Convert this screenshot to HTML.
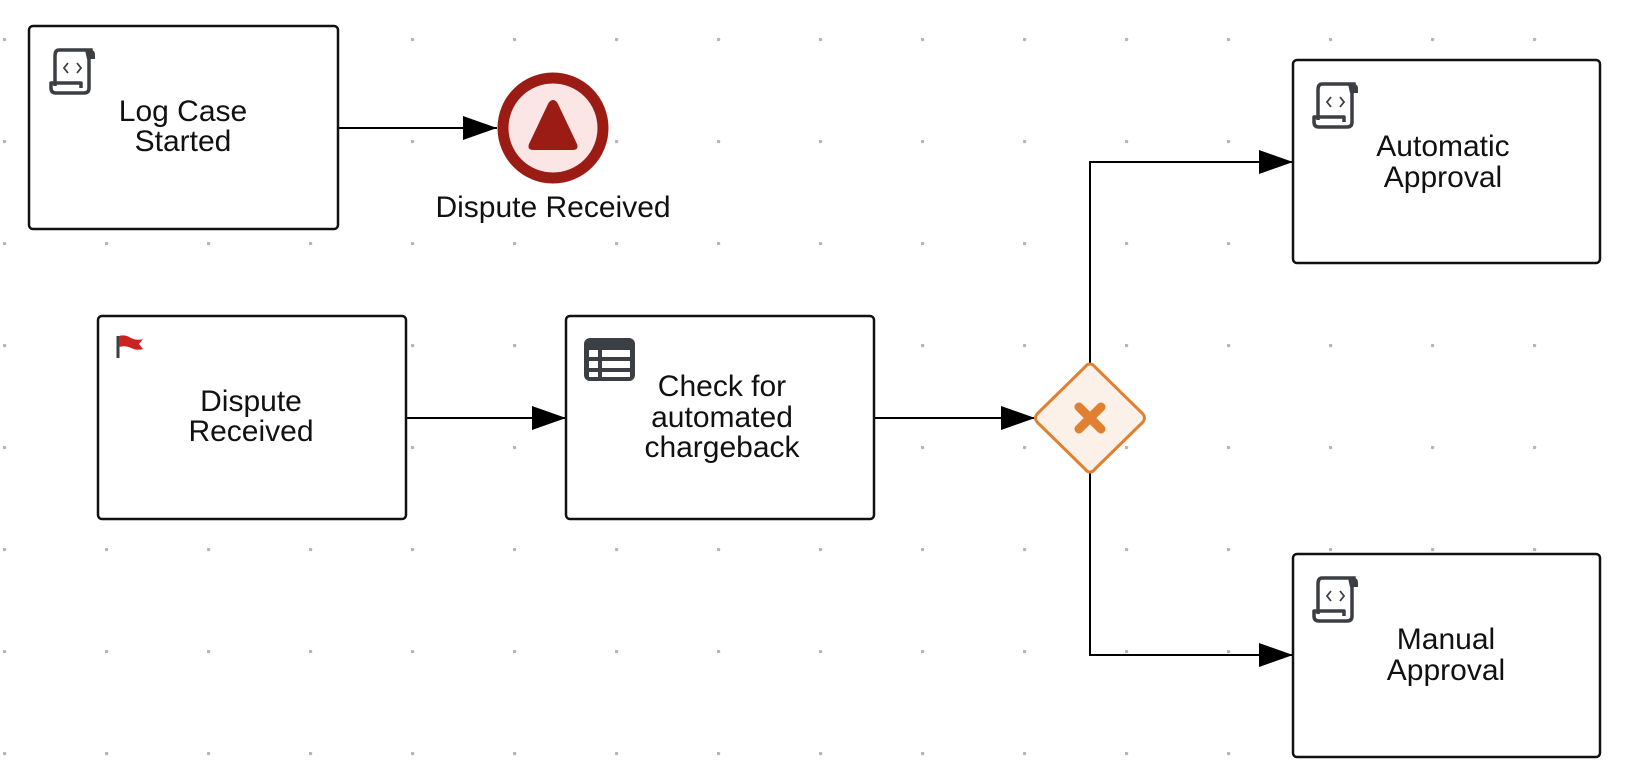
<!DOCTYPE html>
<html><head><meta charset="utf-8"><style>
html,body{margin:0;padding:0;background:#fff;}
svg{display:block;}
text{font-family:"Liberation Sans",sans-serif;font-size:30px;fill:#111;text-anchor:middle;}
</style></head><body>
<svg width="1630" height="778" viewBox="0 0 1630 778" xmlns="http://www.w3.org/2000/svg">
<defs>
<pattern id="dots" x="3" y="38" width="102" height="102" patternUnits="userSpaceOnUse">
<circle cx="1.5" cy="1.5" r="1.8" fill="#b5b5b5"/>
</pattern>
<marker id="a" viewBox="0 0 34 24" refX="34" refY="12" markerWidth="34" markerHeight="24" markerUnits="userSpaceOnUse" orient="auto">
<path d="M0,0 L34,12 L0,24 z" fill="#000"/>
</marker>
<g id="scroll">
<path d="M10,3 h32 v8 M10,3 q-4,0 -4,6 v30" fill="none" stroke="#3b3f44" stroke-width="3.5"/>
<path d="M36,3 h6 q4,0 4,5 v4 h-8 z" fill="#3b3f44"/>
<path d="M40,8 v33 q0,5 -5,5 h-28 q-5,0 -5,-5 v-5 h30 v5" fill="none" stroke="#3b3f44" stroke-width="3.5" stroke-linejoin="round"/>
<path d="M19,16 l-4,5 l4,5 M28,16 l4,5 l-4,5" fill="none" stroke="#3b3f44" stroke-width="1.8"/>
</g>
</defs>
<rect width="1630" height="778" fill="url(#dots)"/>

<g stroke="#000" stroke-width="2" fill="none">
<line x1="338" y1="128" x2="497" y2="128" marker-end="url(#a)"/>
<line x1="406" y1="418" x2="566" y2="418" marker-end="url(#a)"/>
<line x1="874" y1="418" x2="1035" y2="418" marker-end="url(#a)"/>
<polyline points="1090,363 1090,162 1293,162" marker-end="url(#a)"/>
<polyline points="1090,473 1090,655 1293,655" marker-end="url(#a)"/>
</g>

<g fill="#fff" stroke="#111" stroke-width="2.5">
<rect x="29" y="26" width="309" height="203" rx="4"/>
<rect x="98" y="316" width="308" height="203" rx="4"/>
<rect x="566" y="316" width="308" height="203" rx="4"/>
<rect x="1293" y="60" width="307" height="203" rx="4"/>
<rect x="1293" y="554" width="307" height="203" rx="4"/>
</g>

<use href="#scroll" x="49" y="47"/>
<use href="#scroll" x="1312" y="81"/>
<use href="#scroll" x="1312" y="575"/>
<line x1="118" y1="336" x2="118" y2="358" stroke="#3b3f44" stroke-width="3"/>
<path d="M119,336 q6,-2 12,2 q6,3 12,1 l-4,5 l4,5 q-6,2 -12,-1 q-6,-3 -12,-1 z" fill="#cc2222"/>
<rect x="584" y="338" width="51" height="43" rx="6" fill="#3b3f44"/>
<g fill="#fff">
<rect x="589" y="350" width="9" height="7"/><rect x="602" y="350" width="28" height="7"/>
<rect x="589" y="361" width="9" height="7"/><rect x="602" y="361" width="28" height="7"/>
<rect x="589" y="372" width="9" height="5"/><rect x="602" y="372" width="28" height="5"/>
</g>

<circle cx="553" cy="128" r="50" fill="#fbe5e5" stroke="#9b1c14" stroke-width="11"/>
<path d="M553,100 q3,0 5,4 l19,40 q2,6 -4,6 h-40 q-6,0 -4,-6 l19,-40 q2,-4 5,-4 z" fill="#9b1c14"/>
<text x="553" y="217">Dispute Received</text>

<path d="M1090,364 q3,0 5,3 l48,47 q3,4 0,8 l-48,47 q-2,3 -5,3 q-3,0 -5,-3 l-48,-47 q-3,-4 0,-8 l48,-47 q2,-3 5,-3 z" fill="#fcf1e8" stroke="#e08030" stroke-width="3"/>
<g stroke="#e08030" stroke-width="9" stroke-linecap="round">
<line x1="1079" y1="407" x2="1101" y2="429"/><line x1="1101" y1="407" x2="1079" y2="429"/>
</g>

<text x="183" y="121">Log Case</text>
<text x="183" y="151">Started</text>
<text x="251" y="411">Dispute</text>
<text x="251" y="441">Received</text>
<text x="722" y="396">Check for</text>
<text x="722" y="427">automated</text>
<text x="722" y="457">chargeback</text>
<text x="1443" y="156">Automatic</text>
<text x="1443" y="187">Approval</text>
<text x="1446" y="649">Manual</text>
<text x="1446" y="680">Approval</text>
</svg>
</body></html>
